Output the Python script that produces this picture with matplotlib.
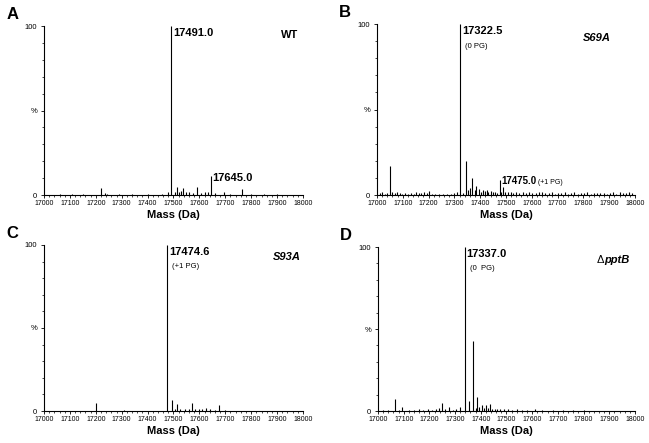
import matplotlib
matplotlib.use("Agg")
import matplotlib.pyplot as plt
from matplotlib.ticker import MultipleLocator, FixedLocator

plt.rcParams['font.family'] = ['Liberation Sans', 'DejaVu Sans']

# ---- data (mass in Da, relative intensity %) ----
a_mass = [17060, 17110, 17150, 17220, 17235, 17245, 17290, 17340, 17400, 17455, 17480, 17491.0,
          17505, 17512, 17520, 17530, 17538, 17548, 17560, 17575, 17590, 17605, 17620, 17632,
          17645.0, 17660, 17695, 17720, 17765, 17800, 17850, 17900]
a_int = [0.5, 0.5, 0.6, 4.2, 1.0, 0.8, 0.6, 0.8, 0.6, 0.5, 2.0, 100,
         1.5, 5.0, 2.0, 2.5, 4.0, 1.5, 2.0, 1.2, 4.5, 1.0, 1.5, 2.0,
         11.0, 1.0, 1.5, 0.8, 3.5, 0.6, 0.7, 0.5]

b_mass = [17010, 17020, 17030, 17040, 17050, 17060, 17068, 17078, 17088, 17098, 17110, 17120,
          17132, 17142, 17152, 17162, 17172, 17182, 17192, 17202, 17212, 17225, 17240, 17255,
          17270, 17285, 17300, 17312, 17322.5, 17335, 17345, 17352, 17360, 17370, 17378, 17385,
          17395, 17403, 17410, 17418, 17425, 17432, 17440, 17448, 17458, 17466, 17475.0, 17482,
          17490, 17498, 17508, 17518, 17528, 17540, 17552, 17565, 17578, 17590, 17602, 17615,
          17628, 17640, 17652, 17665, 17678, 17690, 17702, 17715, 17728, 17740, 17752, 17765,
          17778, 17790, 17802, 17815, 17828, 17840, 17852, 17865, 17878, 17890, 17902, 17915,
          17928, 17940, 17952, 17965, 17978, 17990]
b_int = [1.0, 1.5, 0.8, 1.2, 17.0, 1.5, 1.0, 1.8, 1.2, 0.8, 1.0, 0.6,
         1.4, 0.8, 1.6, 1.0, 1.2, 2.0, 1.0, 2.5, 0.8, 0.6, 0.5, 0.6,
         0.7, 0.8, 1.0, 1.5, 100, 1.0, 20.0, 3.0, 4.0, 10.0, 3.0, 5.5,
         3.5, 2.0, 3.0, 2.5, 3.0, 1.5, 2.5, 1.5, 2.0, 1.0, 9.0, 2.0,
         4.5, 1.5, 1.5, 1.8, 1.0, 1.5, 1.2, 1.6, 1.0, 1.8, 1.0, 1.2,
         1.5, 1.8, 1.2, 1.0, 1.6, 0.8, 1.4, 1.0, 1.5, 0.8, 1.3, 1.6,
         0.8, 1.2, 1.0, 1.8, 0.8, 1.4, 1.0, 0.9, 1.2, 0.8, 1.0, 1.5,
         0.8, 1.6, 1.0, 1.2, 1.8, 1.4]

c_mass = [17100, 17200, 17310, 17400, 17474.6, 17495, 17505, 17515, 17525, 17545, 17560,
          17572, 17585, 17600, 17612, 17625, 17640, 17660, 17675, 17700]
c_int = [0.3, 4.8, 0.8, 0.3, 100, 6.5, 1.5, 4.0, 1.5, 1.0, 1.2,
         5.0, 1.5, 1.0, 1.2, 2.0, 1.0, 0.8, 3.5, 0.4]

d_mass = [17020, 17040, 17065, 17080, 17095, 17120, 17140, 17160, 17175, 17195, 17210, 17225,
          17238, 17250, 17262, 17275, 17290, 17305, 17320, 17337.0, 17355, 17368, 17380, 17387,
          17395, 17403, 17412, 17420, 17428, 17436, 17445, 17455, 17465, 17475, 17490, 17505,
          17520, 17540, 17560, 17580, 17610, 17640, 17680, 17720, 17760, 17800]
d_int = [0.8, 0.5, 7.5, 0.8, 2.5, 0.8, 0.6, 1.2, 0.8, 1.2, 0.6, 1.5,
         2.0, 5.0, 1.5, 2.5, 0.8, 1.2, 2.5, 100, 6.0, 43.0, 2.0, 8.5,
         2.5, 3.5, 2.0, 3.5, 2.0, 4.5, 1.5, 1.2, 1.5, 1.0, 1.0, 1.2,
         0.8, 1.0, 0.6, 0.8, 1.0, 0.5, 0.5, 0.4, 0.6, 0.4]

xticks = [17000, 17100, 17200, 17300, 17400, 17500, 17600, 17700, 17800, 17900, 18000]

panels = [
    dict(letter='A', mass=a_mass, inten=a_int, rect=[0.0678, 0.5598, 0.399, 0.3815],
         prefix='', name='WT', italic=False, name_xy=(0.98, 0.975), main=17491.0,
         main_lab='17491.0', main_sub=None, sec=17645.0, sec_h=11.0, sec_lab='17645.0',
         sec_fs=8, sec_sub=None),
    dict(letter='B', mass=b_mass, inten=b_int, rect=[0.5809, 0.5598, 0.3975, 0.386],
         prefix='', name='S69A', italic=True, name_xy=(0.905, 0.95), main=17322.5,
         main_lab='17322.5', main_sub='(0 PG)', sec=17475.0, sec_h=9.0, sec_lab='17475.0',
         sec_fs=7, sec_sub='(+1 PG)'),
    dict(letter='C', mass=c_mass, inten=c_int, rect=[0.0678, 0.0722, 0.399, 0.3748],
         prefix='', name='S93A', italic=True, name_xy=(0.99, 0.96), main=17474.6,
         main_lab='17474.6', main_sub='(+1 PG)', sec=None),
    dict(letter='D', mass=d_mass, inten=d_int, rect=[0.5824, 0.0722, 0.396, 0.370],
         prefix='Δ', name='pptB', italic=True, name_xy=(0.98, 0.95), main=17337.0,
         main_lab='17337.0', main_sub='(0  PG)', sec=None),
]

fig = plt.figure(figsize=(6.49, 4.43), dpi=100)
renderer = fig.canvas.get_renderer()

for p in panels:
    ax = fig.add_axes(p['rect'])
    ax.vlines(p['mass'], 0, p['inten'], color='black', linewidth=0.8)
    ax.set_xlim(17000, 18000)
    ax.set_ylim(0, 100)
    for s in ['top', 'right']:
        ax.spines[s].set_visible(False)
    for s in ['left', 'bottom']:
        ax.spines[s].set_linewidth(0.8)
    ax.xaxis.set_major_locator(FixedLocator(xticks))
    ax.xaxis.set_minor_locator(MultipleLocator(20))
    ax.set_xticklabels([str(t) for t in xticks], fontsize=5)
    ax.yaxis.set_major_locator(FixedLocator([0, 50, 100]))
    ax.yaxis.set_minor_locator(MultipleLocator(10))
    ax.set_yticklabels(['0', '%', '100'], fontsize=5.5)
    ax.tick_params(axis='x', which='major', length=2.5, width=0.6, pad=1)
    ax.tick_params(axis='x', which='minor', length=1.5, width=0.5)
    ax.tick_params(axis='y', which='major', length=2, width=0.6, pad=3)
    ax.tick_params(axis='y', which='minor', length=1.2, width=0.5)
    ax.set_xlabel('Mass (Da)', fontsize=8, fontweight='bold', labelpad=2)

    # panel letter
    ax.text(-0.1, 1.07, p['letter'], transform=ax.transAxes, fontsize=12,
            fontweight='bold', ha='right', va='center')
    # main peak label
    ax.text(p['main'] + 8, 99, p['main_lab'], fontsize=8, fontweight='bold',
            ha='left', va='top')
    if p['main_sub']:
        ax.text(p['main'] + 20, 89, p['main_sub'], fontsize=5.5, ha='left', va='top')
    if p['sec'] is not None:
        st = ax.text(p['sec'] + 6, p['sec_h'] - 1, p['sec_lab'], fontsize=p['sec_fs'],
                     fontweight='bold', ha='left', va='center')
        if p['sec_sub']:
            ax.annotate(p['sec_sub'], xy=(1, 0.5), xycoords=st, xytext=(1, -0.5),
                        textcoords='offset points', fontsize=5, ha='left', va='center')
    # sample name
    nt = ax.text(p['name_xy'][0], p['name_xy'][1], p['name'], transform=ax.transAxes,
                 fontsize=8, fontweight='bold',
                 fontstyle='italic' if p['italic'] else 'normal', ha='right', va='top')
    if p['prefix']:
        ax.annotate(p['prefix'], xy=(0, 1), xycoords=nt, xytext=(-0.5, 0),
                    textcoords='offset points', fontsize=8, ha='right', va='top')

fig.savefig('out.png', dpi=100)
